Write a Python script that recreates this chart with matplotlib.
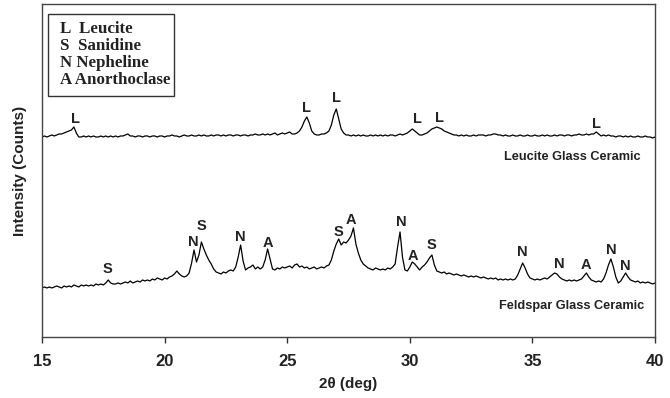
import numpy as np
import matplotlib
matplotlib.use('Agg')
import matplotlib.pyplot as plt
from matplotlib.patches import Rectangle

# 2-theta sampling (0.1 deg steps, 15 -> 40)
two_theta = np.round(np.arange(15.0, 40.05, 0.1), 1)

# Leucite glass ceramic trace (arbitrary counts, offset upward)
leucite = [
    200, 201, 200, 201, 202, 201, 202, 203, 203, 204,
    205, 206, 207, 210, 204, 200, 200, 201, 200, 201,
    200, 201, 200, 200, 201, 200, 201, 200, 201, 200,
    201, 200, 201, 201, 202, 203, 201, 201, 200, 201,
    201, 200, 201, 201, 200, 201, 201, 200, 201, 201,
    200, 201, 201, 202, 201, 201, 200, 201, 202, 201,
    201, 202, 201, 201, 202, 201, 202, 201, 201, 202,
    201, 202, 202, 201, 202, 201, 202, 202, 201, 202,
    202, 201, 202, 202, 201, 202, 202, 203, 202, 202,
    203, 202, 203, 202, 203, 204, 202, 203, 204, 203,
    204, 205, 203, 203, 204, 206, 210, 216, 220, 214,
    206, 203, 202, 202, 203, 203, 204, 206, 212, 222,
    228, 218, 208, 204, 202, 202, 201, 202, 201, 202,
    201, 202, 201, 201, 202, 201, 202, 201, 202, 201,
    202, 201, 202, 202, 201, 202, 203, 202, 203, 204,
    206, 208, 206, 204, 202, 202, 203, 204, 206, 208,
    209, 210, 209, 208, 206, 205, 204, 203, 202, 202,
    201, 202, 201, 202, 201, 201, 202, 201, 202, 202,
    202, 201, 202, 202, 203, 203, 202, 202, 201, 202,
    201, 201, 202, 201, 201, 202, 201, 201, 202, 201,
    201, 202, 201, 201, 202, 201, 202, 201, 201, 202,
    201, 202, 202, 201, 202, 202, 201, 202, 202, 203,
    202, 202, 203, 202, 203, 203, 205, 203, 201, 202,
    201, 202, 201, 201, 200, 201, 201, 200, 201, 200,
    201, 200, 200, 201, 200, 200, 201, 200, 200, 199,
    200,
]

# Feldspar glass ceramic trace
feldspar = [
    49, 50, 49, 50, 49, 50, 51, 50, 49, 51,
    50, 51, 50, 52, 51, 50, 52, 51, 52, 51,
    52, 51, 53, 52, 53, 52, 54, 57, 54, 53,
    53, 54, 53, 54, 55, 54, 56, 54, 55, 56,
    55, 57, 56, 57, 56, 58, 57, 59, 58, 57,
    59, 58, 60, 61, 63, 66, 63, 61, 60, 61,
    64, 74, 87, 75, 82, 95, 88, 82, 77, 73,
    68, 65, 64, 63, 65, 64, 66, 67, 66, 70,
    80, 92, 76, 67, 69, 70, 72, 68, 70, 68,
    70, 77, 88, 78, 68, 67, 69, 68, 70, 69,
    70, 71, 69, 72, 73, 70, 71, 69, 70, 68,
    69, 70, 68, 69, 70, 69, 71, 72, 77, 86,
    93, 98, 92, 95, 94, 97, 101, 109, 93, 84,
    77, 73, 71, 69, 68, 67, 69, 68, 67, 68,
    67, 69, 68, 70, 73, 90, 105, 80, 67, 66,
    70, 75, 73, 70, 67, 70, 72, 75, 79, 82,
    72, 66, 65, 64, 65, 63, 64, 63, 62, 63,
    62, 61, 62, 61, 60, 61, 60, 61, 60, 59,
    60, 59, 58, 59, 58, 59, 57, 58, 57, 58,
    57, 58, 57, 58, 62, 68, 74, 69, 63, 59,
    58, 57, 58, 57, 58, 59, 58, 60, 62, 64,
    63, 60, 58, 57, 56, 57, 56, 57, 56, 57,
    58, 61, 64, 60, 57, 56, 55, 56, 55, 58,
    64, 72, 78, 70, 60, 54, 56, 60, 64, 60,
    57, 56, 55, 56, 54, 55, 54, 55, 54, 53,
    54,
]

# phase labels: (letter, 2theta, height)
leucite_marks = [('L', 16.35, 218), ('L', 25.8, 229), ('L', 26.99, 239),
                 ('L', 30.3, 218), ('L', 31.2, 219), ('L', 37.63, 213)]
feldspar_marks = [('S', 17.65, 68), ('N', 21.16, 95), ('S', 21.5, 111),
                  ('N', 23.07, 100), ('A', 24.2, 94), ('S', 27.1, 105),
                  ('A', 27.6, 117), ('N', 29.64, 115), ('A', 30.13, 81),
                  ('S', 30.9, 92), ('N', 34.58, 85), ('N', 36.1, 73),
                  ('A', 37.19, 72), ('N', 38.2, 87), ('N', 38.8, 71)]

legend_lines = ['L  Leucite', 'S  Sanidine', 'N Nepheline', 'A Anorthoclase']

fig = plt.figure(figsize=(6.7, 3.98), dpi=100)
ax = fig.add_axes([0.0627, 0.1533, 0.915, 0.8367])

ax.plot(two_theta, leucite, color='black', lw=0.9)
ax.plot(two_theta, feldspar, color='black', lw=0.9)

for lab, x, y in leucite_marks + feldspar_marks:
    ax.text(x, y, lab, ha='center', va='center', fontsize=10.5,
            fontweight='bold', family='Liberation Sans', color='#222222')

ax.text(0.977, 0.54, 'Leucite Glass Ceramic', transform=ax.transAxes,
        ha='right', va='center', fontsize=9.2, fontweight='bold',
        family='Liberation Sans', color='#222222')
ax.text(0.982, 0.093, 'Feldspar Glass Ceramic', transform=ax.transAxes,
        ha='right', va='center', fontsize=9.2, fontweight='bold',
        family='Liberation Sans', color='#222222')

# phase key box
ax.add_patch(Rectangle((0.0098, 0.723), 0.206, 0.246, transform=ax.transAxes,
                       fill=False, edgecolor='#333333', lw=1.0))
for i, s in enumerate(legend_lines):
    ax.text(0.029, 0.925 - i * 0.051, s, transform=ax.transAxes,
            ha='left', va='center', fontsize=12.2, fontweight='bold',
            family='Liberation Serif', color='#222222')

ax.set_xlim(15, 40)
ax.set_ylim(0, 333)
ax.set_xticks([15, 20, 25, 30, 35, 40])
ax.set_yticks([])
ax.tick_params(axis='x', direction='out', length=4, width=1, colors='#333333',
               labelsize=12, pad=8)
for lbl in ax.get_xticklabels():
    lbl.set_fontweight('bold')
    lbl.set_family('Liberation Sans')
    lbl.set_color('#222222')
for sp in ax.spines.values():
    sp.set_color('#444444')
    sp.set_linewidth(1.0)

ax.set_xlabel('2θ (deg)', fontsize=11, fontweight='bold',
              family='Liberation Sans', labelpad=6, color='#222222')
ax.set_ylabel('Intensity (Counts)', fontsize=11, fontweight='bold',
              family='Liberation Sans', labelpad=11, color='#222222')

fig.savefig('out.png', dpi=100)
